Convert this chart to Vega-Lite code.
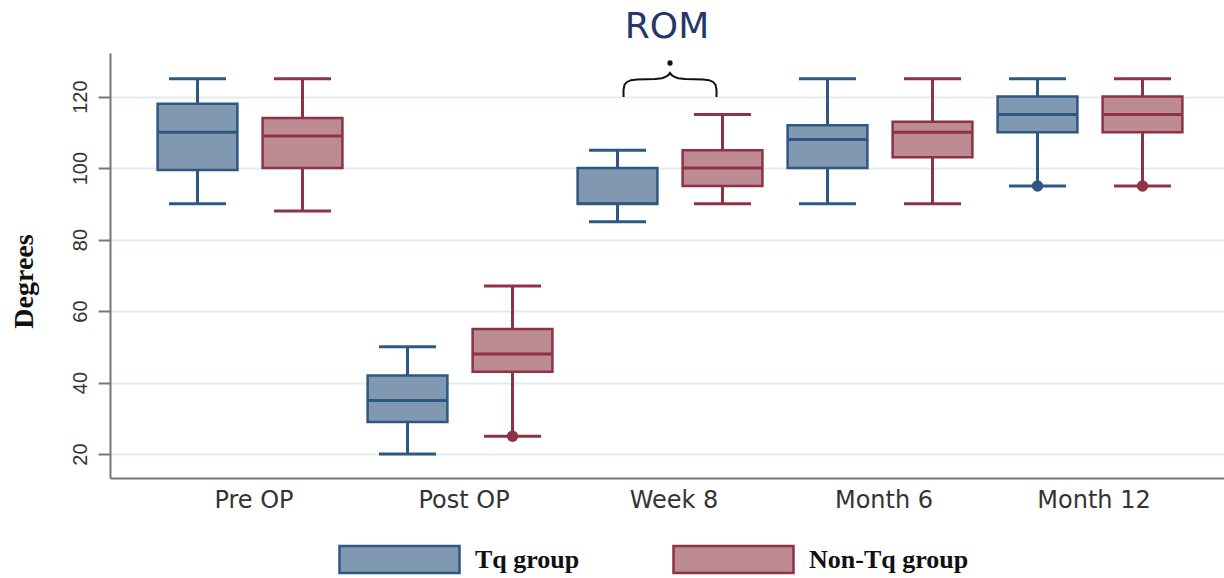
{
  "$schema": "https://vega.github.io/schema/vega-lite/v6.json",
  "width": 1114,
  "height": 425,
  "autosize": {"type": "none"},
  "padding": {"left": 110, "top": 53, "right": 0, "bottom": 100},
  "background": "white",
  "title": {"text": "ROM", "font": "DejaVu Sans", "fontSize": 36, "fontWeight": "normal", "color": "#253766", "anchor": "middle", "frame": "group", "baseline": "alphabetic", "offset": 13, "dy": 34},
  "config": {"view": {"stroke": null}},
  "datasets": {
    "boxes": [
      {"cat": "Pre OP", "group": "Tq group", "lo": 90, "q1": 99.5, "med": 110, "q3": 118, "hi": 125},
      {"cat": "Pre OP", "group": "Non-Tq group", "lo": 88, "q1": 100, "med": 109, "q3": 114, "hi": 125},
      {"cat": "Post OP", "group": "Tq group", "lo": 20, "q1": 29, "med": 35, "q3": 42, "hi": 50},
      {"cat": "Post OP", "group": "Non-Tq group", "lo": 25, "q1": 43, "med": 48, "q3": 55, "hi": 67},
      {"cat": "Week 8", "group": "Tq group", "lo": 85, "q1": 90, "med": 90, "q3": 100, "hi": 105},
      {"cat": "Week 8", "group": "Non-Tq group", "lo": 90, "q1": 95, "med": 100, "q3": 105, "hi": 115},
      {"cat": "Month 6", "group": "Tq group", "lo": 90, "q1": 100, "med": 108, "q3": 112, "hi": 125},
      {"cat": "Month 6", "group": "Non-Tq group", "lo": 90, "q1": 103, "med": 110, "q3": 113, "hi": 125},
      {"cat": "Month 12", "group": "Tq group", "lo": 95, "q1": 110, "med": 115, "q3": 120, "hi": 125},
      {"cat": "Month 12", "group": "Non-Tq group", "lo": 95, "q1": 110, "med": 115, "q3": 120, "hi": 125}
    ],
    "outliers": [
      {"cat": "Post OP", "group": "Non-Tq group", "v": 25},
      {"cat": "Month 12", "group": "Tq group", "v": 95},
      {"cat": "Month 12", "group": "Non-Tq group", "v": 95}
    ],
    "brace": [
      {"o": 1, "u": 1.7786, "v": 119.9},
      {"o": 2, "u": 1.7786, "v": 121.9},
      {"o": 3, "u": 1.7833, "v": 123.3},
      {"o": 4, "u": 1.7952, "v": 124.1},
      {"o": 5, "u": 1.8143, "v": 124.6},
      {"o": 6, "u": 1.8429, "v": 124.8},
      {"o": 7, "u": 1.9286, "v": 124.95},
      {"o": 8, "u": 1.9619, "v": 125.15},
      {"o": 9, "u": 1.981, "v": 125.57},
      {"o": 10, "u": 1.9929, "v": 126.07},
      {"o": 11, "u": 2.0, "v": 126.63},
      {"o": 12, "u": 2.0071, "v": 126.07},
      {"o": 13, "u": 2.019, "v": 125.57},
      {"o": 14, "u": 2.0381, "v": 125.15},
      {"o": 15, "u": 2.0714, "v": 124.95},
      {"o": 16, "u": 2.1571, "v": 124.8},
      {"o": 17, "u": 2.1857, "v": 124.6},
      {"o": 18, "u": 2.2048, "v": 124.1},
      {"o": 19, "u": 2.2167, "v": 123.3},
      {"o": 20, "u": 2.2214, "v": 121.9},
      {"o": 21, "u": 2.2214, "v": 119.9}
    ],
    "dot": [{"u": 2.0, "v": 129.4}]
  },
  "layer": [
    {
      "encoding": {
        "x": {
          "field": "cat", "type": "nominal",
          "sort": ["Pre OP", "Post OP", "Week 8", "Month 6", "Month 12"],
          "scale": {"paddingInner": 0, "paddingOuter": 0.1524, "align": 0.547},
          "axis": {"title": null, "labelAngle": 0, "labelFont": "DejaVu Sans", "labelFontSize": 24, "labelColor": "#333333", "labelPadding": 10, "labelOffset": 4, "ticks": false, "domainColor": "#777777", "domainWidth": 2, "grid": false}
        },
        "xOffset": {
          "field": "group", "type": "nominal",
          "sort": ["Tq group", "Non-Tq group"],
          "scale": {"paddingInner": 0.24, "paddingOuter": 0.12}
        }
      },
      "layer": [
        {
          "data": {"name": "boxes"},
          "mark": {"type": "rule", "strokeWidth": 3},
          "encoding": {
            "y": {
              "field": "lo", "type": "quantitative",
              "scale": {"domain": [13.3, 132.2], "nice": false, "zero": false},
              "axis": {"title": "Degrees", "titleFont": "Liberation Serif", "titleFontWeight": "bold", "titleFontSize": 28, "titleColor": "#111111", "titleAngle": -90, "titleAlign": "center", "titleBaseline": "middle", "titleX": -86, "titleY": 228,
                       "values": [20, 40, 60, 80, 100, 120], "labelAngle": -90, "labelAlign": "center", "labelBaseline": "alphabetic", "labelFont": "Liberation Sans", "labelFontSize": 20, "labelColor": "#333333", "labelPadding": 12,
                       "tickSize": 12, "tickWidth": 2, "tickColor": "#777777", "domainColor": "#777777", "domainWidth": 2, "grid": true, "gridColor": "#E2ECEF", "gridWidth": 2}
            },
            "y2": {"field": "hi"},
            "stroke": {"field": "group", "type": "nominal", "scale": {"domain": ["Tq group", "Non-Tq group"], "range": ["#2F5783", "#8E3343"]}}
          }
        },
        {
          "data": {"name": "boxes"},
          "mark": {"type": "bar", "strokeWidth": 2.5, "strokeJoin": "miter"},
          "encoding": {
            "y": {"field": "q1", "type": "quantitative"},
            "y2": {"field": "q3"},
            "fill": {
              "field": "group", "type": "nominal",
              "scale": {"domain": ["Tq group", "Non-Tq group"], "range": ["#8099B1", "#BD8B93"]},
              "legend": {"title": null, "orient": "none", "legendX": 228, "legendY": 445, "direction": "horizontal",
                         "symbolType": "M-1,-0.225H1V0.225H-1Z", "symbolSize": 14400, "symbolStrokeWidth": 2.5, "symbolOpacity": 1,
                         "labelFont": "Liberation Serif", "labelFontWeight": "bold", "labelFontSize": 26, "labelColor": "#111111", "labelOffset": 14, "columnPadding": 88, "labelLimit": 400}
            },
            "stroke": {
              "field": "group", "type": "nominal",
              "legend": {"title": null, "orient": "none", "legendX": 228, "legendY": 445, "direction": "horizontal",
                         "symbolType": "M-1,-0.225H1V0.225H-1Z", "symbolSize": 14400, "symbolStrokeWidth": 2.5, "symbolOpacity": 1,
                         "labelFont": "Liberation Serif", "labelFontWeight": "bold", "labelFontSize": 26, "labelColor": "#111111", "labelOffset": 14, "columnPadding": 88, "labelLimit": 400}
            }
          }
        },
        {
          "data": {"name": "boxes"},
          "mark": {"type": "tick", "size": 80, "thickness": 3, "opacity": 1},
          "encoding": {
            "y": {"field": "med", "type": "quantitative"},
            "color": {"field": "group", "type": "nominal", "scale": {"domain": ["Tq group", "Non-Tq group"], "range": ["#2F5783", "#8E3343"]}, "legend": null}
          }
        },
        {
          "data": {"name": "boxes"},
          "mark": {"type": "tick", "size": 57, "thickness": 3, "opacity": 1},
          "encoding": {
            "y": {"field": "lo", "type": "quantitative"},
            "color": {"field": "group", "type": "nominal", "legend": null}
          }
        },
        {
          "data": {"name": "boxes"},
          "mark": {"type": "tick", "size": 57, "thickness": 3, "opacity": 1},
          "encoding": {
            "y": {"field": "hi", "type": "quantitative"},
            "color": {"field": "group", "type": "nominal", "legend": null}
          }
        },
        {
          "data": {"name": "outliers"},
          "mark": {"type": "point", "filled": true, "size": 130, "opacity": 1},
          "encoding": {
            "y": {"field": "v", "type": "quantitative"},
            "color": {"field": "group", "type": "nominal", "legend": null}
          }
        }
      ]
    },
    {
      "layer": [
        {
          "data": {"name": "brace"},
          "mark": {"type": "line", "color": "#111111", "strokeWidth": 2, "interpolate": "linear"},
          "encoding": {
            "x": {"field": "u", "type": "quantitative", "scale": {"domain": [-0.6667, 4.638], "nice": false, "zero": false}, "axis": null},
            "y": {"field": "v", "type": "quantitative"},
            "order": {"field": "o", "type": "quantitative"}
          }
        },
        {
          "data": {"name": "dot"},
          "mark": {"type": "point", "filled": true, "color": "#111111", "size": 28, "opacity": 1},
          "encoding": {
            "x": {"field": "u", "type": "quantitative"},
            "y": {"field": "v", "type": "quantitative"}
          }
        }
      ]
    }
  ],
  "resolve": {"scale": {"x": "independent"}, "axis": {"x": "independent"}}
}
